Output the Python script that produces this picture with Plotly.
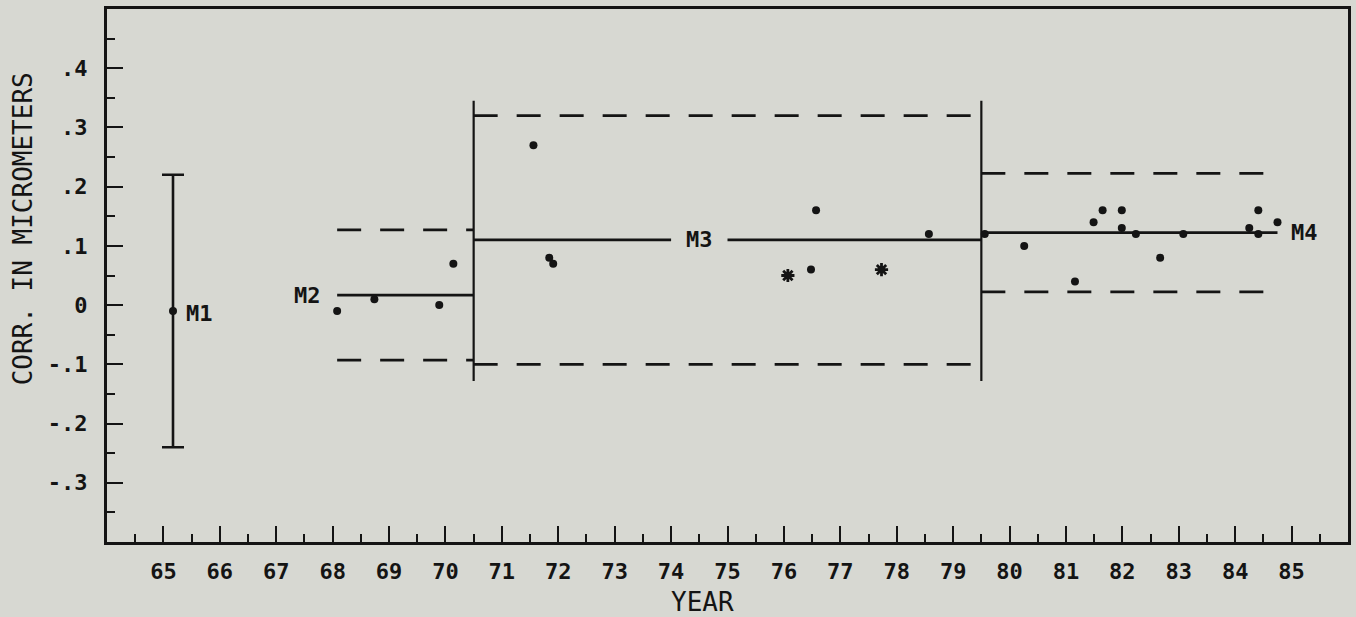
import plotly.graph_objects as go

# ---- data -------------------------------------------------------------
# M1: single determination with its uncertainty
m1_year = [65.17]
m1_corr = [-0.01]
m1_err_plus = [0.23]
m1_err_minus = [0.23]

# M2 period
m2_year = [68.08, 68.74, 69.89, 70.14]
m2_corr = [-0.01, 0.01, 0.00, 0.07]

# M3 period (dots and asterisks)
m3_dot_year = [71.56, 71.84, 71.91, 76.48, 76.57, 78.57]
m3_dot_corr = [0.27, 0.08, 0.07, 0.06, 0.16, 0.12]
m3_star_year = [76.07, 77.73]
m3_star_corr = [0.05, 0.06]

# M4 period
m4_year = [79.56, 80.26, 81.16, 81.49, 81.65, 81.99, 81.99, 82.24,
           82.67, 83.08, 84.25, 84.41, 84.41, 84.75]
m4_corr = [0.12, 0.10, 0.04, 0.14, 0.16, 0.16, 0.13, 0.12,
           0.08, 0.12, 0.13, 0.16, 0.12, 0.14]

# period levels, limit half-widths and time spans
period_names = ["M2", "M3", "M4"]
period_level = [0.017, 0.11, 0.1225]
period_limit = [0.11, 0.21, 0.10]
period_start = [68.08, 70.5, 79.5]
period_end = [70.5, 79.5, 84.75]
m3_label_gap = [74.0, 75.0]

# period boundaries (vertical separators)
boundary_year = [70.5, 79.5]
boundary_top = 0.345
boundary_bottom = -0.128

# axes
x_ticks = list(range(65, 86))
x_ticklabels = [str(v) for v in x_ticks]
x_minor = [64.5 + k for k in range(22)]
y_ticks = [-0.3, -0.2, -0.1, 0.0, 0.1, 0.2, 0.3, 0.4]
y_ticklabels = ["-.3", "-.2", "-.1", "0", ".1", ".2", ".3", ".4"]
y_minor = [-0.35, -0.25, -0.15, -0.05, 0.05, 0.15, 0.25, 0.35, 0.45]

INK = "#141414"
BG = "#d7d8d2"
FONT = "DejaVu Sans Mono"
DASH = "24px,19px"
LW = 2.8

fig = go.Figure()

# M1 with error bar
fig.add_trace(go.Scatter(
    x=m1_year, y=m1_corr, mode="markers",
    marker=dict(size=8, color=INK),
    error_y=dict(type="data", symmetric=False, array=m1_err_plus,
                 arrayminus=m1_err_minus, color=INK, thickness=2.6, width=11),
    showlegend=False, hoverinfo="skip"))

# level lines and dashed limits for each period
for i, name in enumerate(period_names):
    x0, x1 = period_start[i], period_end[i]
    lvl, lim = period_level[i], period_limit[i]
    if name == "M3":
        xs = [x0, m3_label_gap[0], None, m3_label_gap[1], x1]
        ys = [lvl, lvl, None, lvl, lvl]
    else:
        xs = [x0, x1]
        ys = [lvl, lvl]
    fig.add_trace(go.Scatter(x=xs, y=ys, mode="lines",
                             line=dict(color=INK, width=LW),
                             showlegend=False, hoverinfo="skip"))
    for sgn in (1, -1):
        fig.add_trace(go.Scatter(x=[x0, x1], y=[lvl + sgn * lim] * 2, mode="lines",
                                 line=dict(color=INK, width=LW, dash=DASH),
                                 showlegend=False, hoverinfo="skip"))

# vertical separators between periods
for bx in boundary_year:
    fig.add_trace(go.Scatter(x=[bx, bx], y=[boundary_bottom, boundary_top],
                             mode="lines", line=dict(color=INK, width=2.2),
                             showlegend=False, hoverinfo="skip"))

# data points
for xs, ys in ((m2_year, m2_corr), (m3_dot_year, m3_dot_corr), (m4_year, m4_corr)):
    fig.add_trace(go.Scatter(x=xs, y=ys, mode="markers",
                             marker=dict(size=8, color=INK),
                             showlegend=False, hoverinfo="skip"))
fig.add_trace(go.Scatter(x=m3_star_year, y=m3_star_corr, mode="markers",
                         marker=dict(symbol="asterisk", size=11, color=INK,
                                     line=dict(color=INK, width=2.8)),
                         showlegend=False, hoverinfo="skip"))

lab_font = dict(family=FONT, size=22, color=INK, weight="bold")
annotations = [
    dict(x=m1_year[0], y=m1_corr[0], text="M1", xanchor="left", yanchor="middle",
         xshift=11, yshift=-2, showarrow=False, font=lab_font),
    dict(x=period_start[0], y=period_level[0], text="M2", xanchor="right",
         yanchor="middle", xshift=-14, showarrow=False, font=lab_font),
    dict(x=sum(m3_label_gap) / 2, y=period_level[1], text="M3", xanchor="center",
         yanchor="middle", showarrow=False, font=lab_font),
    dict(x=period_end[2], y=period_level[2], text="M4", xanchor="left",
         yanchor="middle", xshift=12, showarrow=False, font=lab_font),
    dict(x=0.48, y=-0.113, xref="paper", yref="paper", text="YEAR",
         xanchor="center", yanchor="middle", showarrow=False,
         font=dict(family=FONT, size=26, color=INK)),
    dict(x=-0.0675, y=0.587, xref="paper", yref="paper", text="CORR. IN MICROMETERS",
         textangle=-90, xanchor="center", yanchor="middle", showarrow=False,
         font=dict(family=FONT, size=26, color=INK)),
]

tick_font = dict(family=FONT, size=22, color=INK, weight="bold")

fig.update_layout(
    width=1356, height=617,
    margin=dict(l=107, r=5, t=9, b=75),
    paper_bgcolor=BG, plot_bgcolor=BG,
    annotations=annotations,
    font=dict(family=FONT, size=22, color=INK),
)
fig.update_xaxes(
    range=[64, 86], showgrid=False, zeroline=False,
    showline=True, linewidth=3, linecolor=INK, mirror=True,
    ticks="inside", tickvals=x_ticks, ticktext=x_ticklabels, tickfont=tick_font,
    ticklen=16, tickwidth=2.2, tickcolor=INK, ticklabelstandoff=8,
    minor=dict(tickvals=x_minor, ticks="inside", ticklen=8, tickwidth=2.2,
               tickcolor=INK, showgrid=False),
)
fig.update_yaxes(
    range=[-0.4, 0.5], showgrid=False, zeroline=False,
    showline=True, linewidth=3, linecolor=INK, mirror=True,
    ticks="inside", tickvals=y_ticks, ticktext=y_ticklabels, tickfont=tick_font,
    ticklen=16, tickwidth=2.2, tickcolor=INK, ticklabelstandoff=12,
    minor=dict(tickvals=y_minor, ticks="inside", ticklen=8, tickwidth=2.2,
               tickcolor=INK, showgrid=False),
)

fig.write_html("out.html")
